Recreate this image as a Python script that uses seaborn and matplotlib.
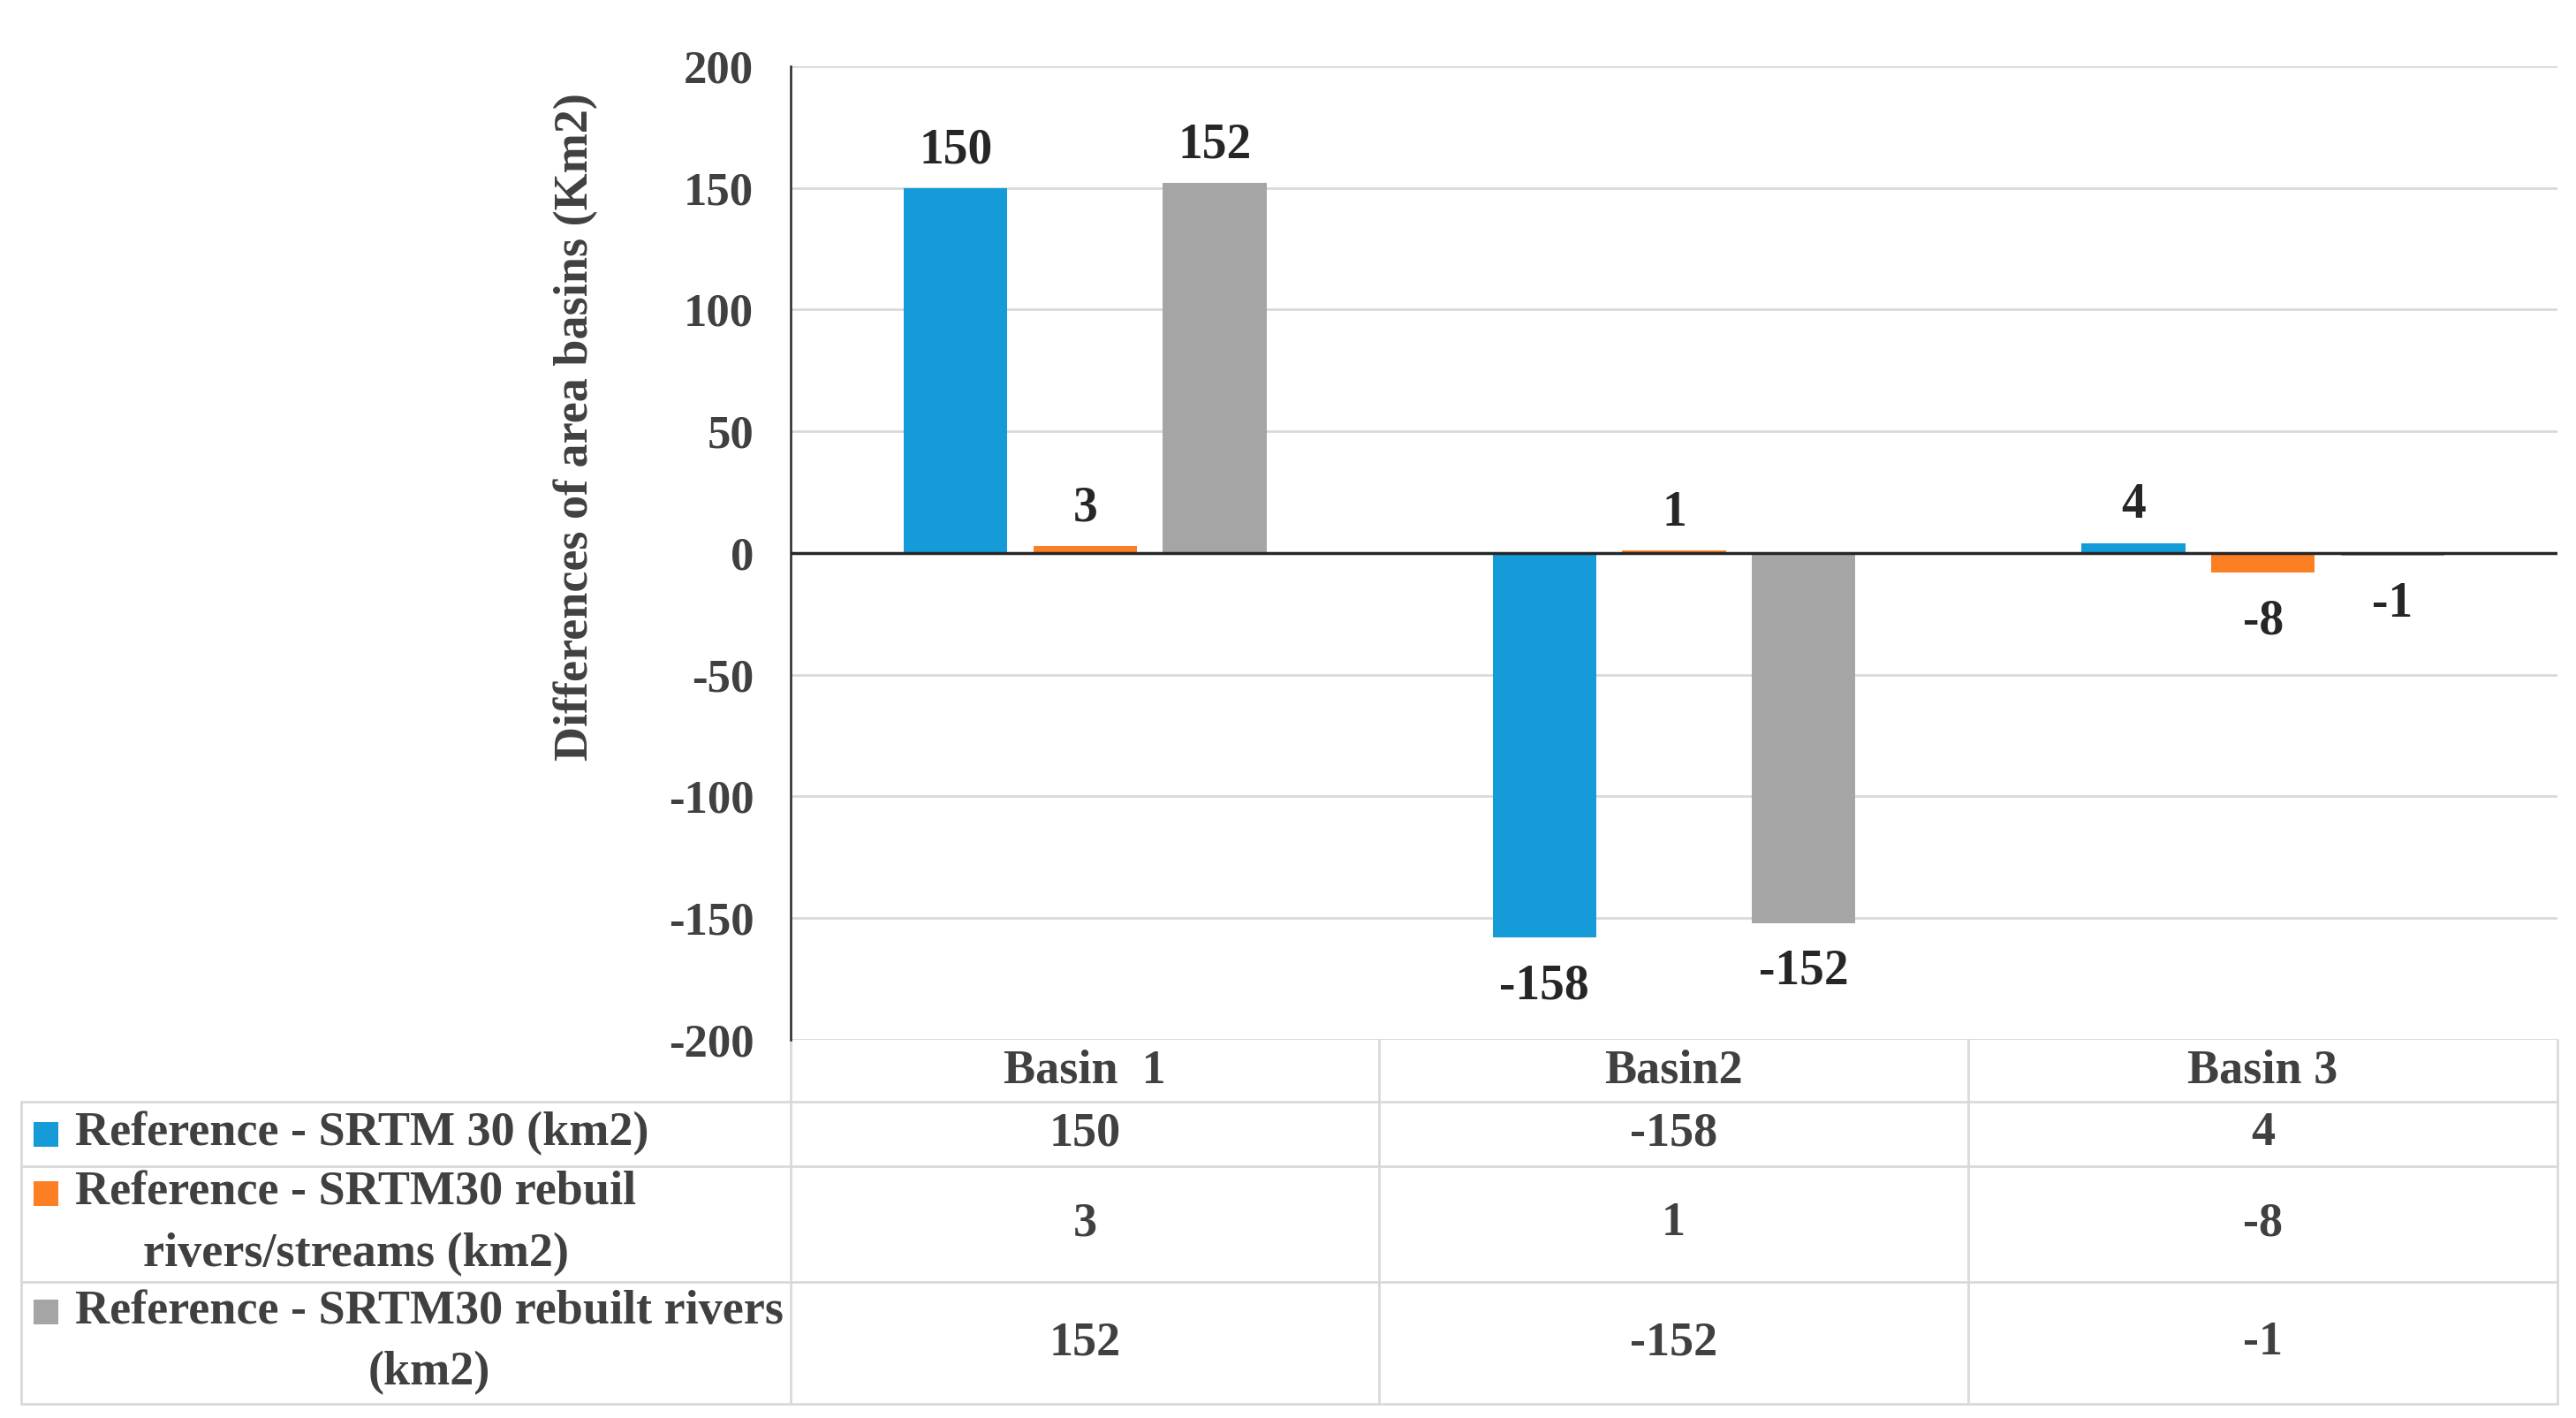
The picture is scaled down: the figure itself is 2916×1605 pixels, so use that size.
import numpy as np
import pandas as pd
import matplotlib
matplotlib.use("Agg")
import matplotlib.pyplot as plt
from matplotlib.patches import Rectangle
import seaborn as sns

# data
basins = ["Basin  1", "Basin2", "Basin 3"]
series = ["Reference - SRTM 30 (km2)",
          "Reference - SRTM30 rebuil\nrivers/streams (km2)",
          "Reference - SRTM30 rebuilt rivers\n(km2)"]
srtm30 = [150, -158, 4]
rebuilt_streams = [3, 1, -8]
rebuilt_rivers = [152, -152, -1]
colors = ["#159BD7", "#FD7F23", "#A5A5A5"]
yticks = [-200, -150, -100, -50, 0, 50, 100, 150, 200]

values = [srtm30, rebuilt_streams, rebuilt_rivers]
df = pd.DataFrame({
    "basin": basins * 3,
    "series": [s for s in series for _ in basins],
    "value": srtm30 + rebuilt_streams + rebuilt_rivers,
})

sns.set_theme(style="white")
plt.rcParams["font.family"] = ["Liberation Serif", "DejaVu Serif"]
plt.rcParams["font.weight"] = "bold"
plt.rcParams["axes.unicode_minus"] = False

W, H = 2916, 1605
fig = plt.figure(figsize=(W / 100, H / 100), dpi=100)

# overlay in pixel coordinates for the data table
tab = fig.add_axes([0, 0, 1, 1], zorder=0)
tab.set_xlim(0, W)
tab.set_ylim(H, 0)
tab.axis("off")
tab.patch.set_alpha(0)

ax = fig.add_axes([895 / W, 1 - 1177 / H, 2000 / W, 1102 / H], zorder=1)
ax.patch.set_alpha(0)

sns.barplot(data=df, x="basin", y="value", hue="series", palette=colors,
            width=0.66, gap=0.2, saturation=1, linewidth=0, legend=False, ax=ax)

ax.set_ylim(-200, 200)
ax.set_yticks(yticks)
ax.set_xlim(-0.5, 2.5)
ax.yaxis.grid(True, color="#D9D9D9", lw=2)
ax.set_axisbelow(True)
ax.axhline(0, color="#262626", lw=2.5, zorder=3)
for s in ["top", "right", "bottom"]:
    ax.spines[s].set_visible(False)
ax.spines["left"].set_color("#262626")
ax.spines["left"].set_linewidth(1.8)
ax.tick_params(axis="y", length=0, pad=30, labelsize=38, labelcolor="#404040")
ax.tick_params(axis="x", length=0, labelbottom=False)
ax.set_xlabel("")
ax.set_ylabel("Differences of area basins (Km2)", fontsize=39, fontweight="bold",
              color="#404040")
ax.yaxis.set_label_coords(-0.109, 0.63)

for c in ax.containers:
    anns = ax.bar_label(c, padding=12, fontsize=40, fontweight="bold", color="#262626")
    for a, v in zip(anns, c.datavalues):
        if v < 0:
            a.xyann = (0, -21)

# table below the plot
x_cols = [895, 1561, 2228, 2895]
x_left = 24
rows_y = [1177, 1247, 1320, 1451, 1589]
gc = "#D9D9D9"
lw = 2

for y in rows_y[1:]:
    tab.plot([x_left, x_cols[-1]], [y, y], color=gc, lw=lw)
for x in x_cols:
    tab.plot([x, x], [rows_y[0], rows_y[-1]], color=gc, lw=lw)
tab.plot([x_left, x_left], [rows_y[1], rows_y[-1]], color=gc, lw=lw)

tfs = 39
tcol = "#404040"
for j, b in enumerate(basins):
    xc = (x_cols[j] + x_cols[j + 1]) / 2
    tab.text(xc, (rows_y[0] + rows_y[1]) / 2, b, ha="center", va="center",
             fontsize=tfs, fontweight="bold", color=tcol)

for i, (name, vals) in enumerate(zip(series, values)):
    yc = (rows_y[i + 1] + rows_y[i + 2]) / 2
    nlines = name.count("\n") + 1
    line_h = 70
    y_first = yc - (nlines - 1) * line_h / 2
    tab.text(85, yc, name, ha="left", va="center", multialignment="center",
             fontsize=tfs, fontweight="bold", color=tcol, linespacing=1.5)
    tab.add_patch(Rectangle((38, y_first - 14), 28, 28, color=colors[i], lw=0))
    for j, v in enumerate(vals):
        xc = (x_cols[j] + x_cols[j + 1]) / 2
        tab.text(xc, yc, str(v), ha="center", va="center",
                 fontsize=tfs, fontweight="bold", color=tcol)

fig.savefig("out.png", dpi=100, facecolor="white")
